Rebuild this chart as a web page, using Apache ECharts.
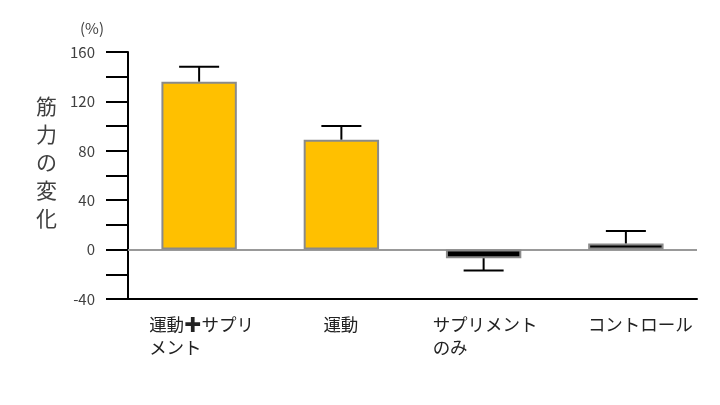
<!DOCTYPE html>
<html><head><meta charset="utf-8">
<script src="https://cdn.jsdelivr.net/npm/echarts@6/dist/echarts.min.js"></script>
<style>html,body{margin:0;padding:0;background:#fff}#c{width:720px;height:405px}</style>
</head><body><div id="c"></div>
<script>
const categories = ['運動✚サプリメント', '運動', 'サプリメントのみ', 'コントロール'];
const labelLines = [['運動✚サプリ', 'メント'], ['運動'], ['サプリメント', 'のみ'], ['コントロール']];
const values = [136, 89, -7, 5];
const errorEnds = [148, 100, -17, 15];
const barColors = ['#FFC000', '#FFC000', '#000000', '#000000'];
const yTicks = { min: -40, max: 160, step: 20, labelStep: 40 };

const chart = echarts.init(document.getElementById('c'));
const font = '"Noto Sans CJK JP", "Noto Sans", sans-serif';
const labelWidths = [100, 36, 102, 76];
const rich = {};
labelWidths.forEach((w, i) => { rich['c' + i] = { width: w, align: 'left', fontSize: 17.5, lineHeight: 23, color: '#222', fontFamily: font }; });

chart.setOption({
  animation: false,
  title: [
    { text: '筋\n力\nの\n変\n化', left: 31, top: 87, textStyle: { fontSize: 21, lineHeight: 28, fontWeight: 'normal', color: '#404040', fontFamily: font } },
    { text: '(%)', left: 75, top: 16, textStyle: { fontSize: 15, fontWeight: 'normal', color: '#404040', fontFamily: font } }
  ],
  grid: { left: 128, right: 23, top: 52, bottom: 106 },
  xAxis: {
    type: 'category',
    data: categories,
    axisLine: { onZero: false, lineStyle: { color: '#000', width: 2 } },
    axisTick: { show: false },
    axisLabel: {
      interval: 0, margin: 14, align: 'center', verticalAlign: 'top',
      formatter: (v, i) => labelLines[i].map(s => '{c' + i + '|' + s + '}').join('\n'),
      rich: rich
    }
  },
  yAxis: {
    type: 'value', min: yTicks.min, max: yTicks.max, interval: yTicks.step,
    splitLine: { show: false },
    axisLine: { show: true, lineStyle: { color: '#000', width: 2 } },
    axisTick: { show: true, length: 22, lineStyle: { color: '#000', width: 2 } },
    axisLabel: {
      margin: 33, fontSize: 15, color: '#404040', fontFamily: font,
      formatter: v => (v % yTicks.labelStep === 0 ? String(v) : '')
    }
  },
  series: [
    {
      type: 'bar', barWidth: '53%',
      data: values.map((v, i) => ({ value: v, itemStyle: { color: barColors[i] } })),
      itemStyle: { borderColor: '#8a8a8a', borderWidth: 2 },
      markLine: {
        silent: true, symbol: 'none', label: { show: false },
        lineStyle: { color: '#999', width: 2, type: 'solid' },
        data: [{ yAxis: 0 }], z: 1
      },
      z: 2
    },
    {
      type: 'custom',
      data: values.map((v, i) => [i, v, errorEnds[i]]),
      renderItem: (params, api) => {
        const a = api.coord([api.value(0), api.value(1)]);
        const b = api.coord([api.value(0), api.value(2)]);
        const half = 20;
        const style = { stroke: '#000', lineWidth: 2 };
        return { type: 'group', children: [
          { type: 'line', shape: { x1: a[0], y1: a[1], x2: b[0], y2: b[1] }, style },
          { type: 'line', shape: { x1: b[0] - half, y1: b[1], x2: b[0] + half, y2: b[1] }, style }
        ] };
      },
      z: 3
    }
  ]
});
</script></body></html>
